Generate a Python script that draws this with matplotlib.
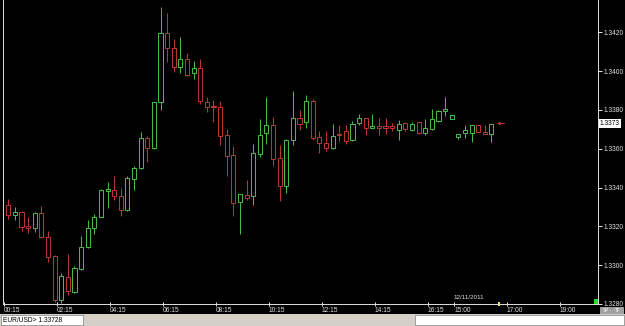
import matplotlib
matplotlib.use("Agg")
import matplotlib.pyplot as plt
from matplotlib.patches import Rectangle
import numpy as np

plt.rcParams['font.family'] = ['Liberation Sans', 'DejaVu Sans']

# EUR/USD 15 minute candles
opens = [1.33308, 1.33261, 1.33275, 1.33204, 1.33190, 1.33269, 1.33144, 1.33046, 1.32820, 1.32940,
         1.32860, 1.32978, 1.33095, 1.33192, 1.33249, 1.33383, 1.33388, 1.33355, 1.33283, 1.33444,
         1.33499, 1.33655, 1.33605, 1.33843, 1.34195, 1.34118, 1.34023, 1.34064, 1.33989, 1.34016,
         1.33843, 1.33821, 1.33817, 1.33670, 1.33568, 1.33324, 1.33362, 1.33355, 1.33574, 1.33681,
         1.33723, 1.33552, 1.33406, 1.33643, 1.33758, 1.33735, 1.33848, 1.33658, 1.33629, 1.33604,
         1.33676, 1.33693, 1.33645, 1.33730, 1.33758, 1.33706, 1.33715, 1.33715, 1.33715, 1.33698,
         1.33732, 1.33698, 1.33735, 1.33681, 1.33703, 1.33744, 1.33792, 1.33753, 1.33660, 1.33681,
         1.33681, 1.33720, 1.33686, 1.33677]
highs = [1.33342, 1.33300, 1.33281, 1.33247, 1.33272, 1.33307, 1.33175, 1.33050, 1.32959, 1.33055,
         1.32995, 1.33149, 1.33235, 1.33266, 1.33393, 1.33430, 1.33461, 1.33396, 1.33461, 1.33513,
         1.33684, 1.33667, 1.33843, 1.34329, 1.34301, 1.34164, 1.34174, 1.34095, 1.34052, 1.34064,
         1.33866, 1.33852, 1.33848, 1.33701, 1.33612, 1.33367, 1.33441, 1.33626, 1.33753, 1.33866,
         1.33763, 1.33621, 1.33650, 1.33895, 1.33801, 1.33878, 1.33856, 1.33689, 1.33693, 1.33727,
         1.33723, 1.33720, 1.33744, 1.33778, 1.33760, 1.33778, 1.33759, 1.33758, 1.33732, 1.33746,
         1.33735, 1.33735, 1.33738, 1.33753, 1.33804, 1.33797, 1.33866, 1.33775, 1.33676, 1.33723,
         1.33720, 1.33722, 1.33723, 1.33729]
lows = [1.33239, 1.33231, 1.33175, 1.33167, 1.33170, 1.33140, 1.33017, 1.32810, 1.32803, 1.32844,
        1.32855, 1.32975, 1.33090, 1.33163, 1.33249, 1.33293, 1.33338, 1.33252, 1.33280, 1.33386,
        1.33495, 1.33530, 1.33600, 1.33797, 1.34049, 1.33997, 1.33989, 1.33972, 1.33958, 1.33830,
        1.33787, 1.33740, 1.33619, 1.33461, 1.33252, 1.33163, 1.33334, 1.33312, 1.33557, 1.33626,
        1.33509, 1.33329, 1.33372, 1.33619, 1.33694, 1.33708, 1.33646, 1.33579, 1.33587, 1.33600,
        1.33638, 1.33624, 1.33640, 1.33720, 1.33670, 1.33705, 1.33669, 1.33677, 1.33689, 1.33646,
        1.33689, 1.33689, 1.33678, 1.33672, 1.33698, 1.33740, 1.33766, 1.33753, 1.33650, 1.33655,
        1.33632, 1.33684, 1.33677, 1.33632]
closes = [1.33257, 1.33276, 1.33197, 1.33192, 1.33269, 1.33146, 1.33041, 1.32820, 1.32943, 1.32866,
          1.32983, 1.33095, 1.33192, 1.33249, 1.33386, 1.33391, 1.33355, 1.33286, 1.33447, 1.33499,
          1.33655, 1.33602, 1.33843, 1.34195, 1.34118, 1.34023, 1.34061, 1.33980, 1.34018, 1.33847,
          1.33817, 1.33814, 1.33663, 1.33564, 1.33321, 1.33367, 1.33344, 1.33578, 1.33672, 1.33723,
          1.33547, 1.33406, 1.33646, 1.33758, 1.33729, 1.33848, 1.33654, 1.33629, 1.33605, 1.33663,
          1.33668, 1.33641, 1.33727, 1.33758, 1.33706, 1.33717, 1.33706, 1.33706, 1.33706, 1.33729,
          1.33704, 1.33729, 1.33681, 1.33708, 1.33754, 1.33795, 1.33804, 1.33775, 1.33676, 1.33694,
          1.33720, 1.33684, 1.33677, 1.33729]

time_labels = ["00:15", "02:15", "04:15", "06:15", "08:15", "10:15", "12:15", "14:15",
               "16:15", "15:00", "17:00", "19:00"]
time_label_bars = [0, 8, 16, 24, 32, 40, 48, 56, 64, 68, 76, 84]
price_ticks = [1.3280, 1.3300, 1.3320, 1.3340, 1.3360, 1.3380, 1.3400, 1.3420]
last_price = 1.3373
bid_text = "EUR/USD> 1.33728"
date_text = "12/11/2011"

W, H = 625, 326
fig = plt.figure(figsize=(W / 100, H / 100), dpi=100, facecolor="black")
ax = fig.add_axes([3 / W, 22 / H, 595 / W, 304 / H], facecolor="black")

green = "#48b848"
red = "#b83636"
px = 0.72
fs = 4.8

o = np.array(opens)
h = np.array(highs)
l = np.array(lows)
c = np.array(closes)
idx = np.arange(len(o))
up = c >= o
cols = np.where(up, green, red)

ax.vlines(idx, l, h, colors=cols, linewidth=px, zorder=2)
ax.bar(idx, np.maximum(np.abs(c - o), 0.000005), bottom=np.minimum(o, c), width=0.62,
       facecolor="black", edgecolor=cols, linewidth=px, zorder=3)

ax.set_xlim(-0.8, 89.1)
ax.set_ylim(1.32800, 1.34366)

ax.spines["top"].set_visible(False)
for s in ["left", "right", "bottom"]:
    ax.spines[s].set_color("#d8d8d8")
    ax.spines[s].set_linewidth(px)

ax.yaxis.tick_right()
ax.set_yticks(price_ticks)
ax.set_yticklabels(["%.4f" % p for p in price_ticks])
ax.tick_params(axis="y", colors="#e0e0e0", labelsize=fs, length=3, width=px, pad=1.2)

ax.set_xticks(np.array(time_label_bars) - 0.65)
ax.set_xticklabels(time_labels, ha="left")
ax.tick_params(axis="x", colors="#e0e0e0", labelsize=fs, length=3, width=px,
               direction="inout", pad=0.8)

# current price marker
ax.text(1.003, last_price, "%.4f" % last_price, transform=ax.get_yaxis_transform(),
        fontsize=fs, color="black", va="center", ha="left",
        bbox=dict(facecolor="white", edgecolor="none", pad=0.8), clip_on=False)
ax.annotate("", xy=(73.4, last_price), xytext=(75.4, last_price),
            arrowprops=dict(arrowstyle="-|>", color="#c03030", lw=0.7,
                            mutation_scale=4))

ax.text(69.6, 1.32822, date_text, fontsize=4.5, color="#e0e0e0", ha="center", va="bottom")

# small markers on the frame
ax.add_patch(Rectangle((0.9925, 0.0), 0.0075, 0.015, transform=ax.transAxes,
                       facecolor="#22dd22", edgecolor="none", zorder=5))
ax.add_patch(Rectangle((0.832, -0.006), 0.004, 0.012, transform=ax.transAxes,
                       facecolor="#e8e070", edgecolor="none", clip_on=False, zorder=5))

# status bar
fig.patches.append(Rectangle((0, 0), 1, 12 / H, transform=fig.transFigure,
                             facecolor="#d4d0c8", edgecolor="none"))
fig.patches.append(Rectangle((1 / W, 1 / H), 82 / W, 10 / H, transform=fig.transFigure,
                             facecolor="white", edgecolor="#808080", linewidth=0.5))
fig.patches.append(Rectangle((415 / W, 1 / H), 209 / W, 10 / H, transform=fig.transFigure,
                             facecolor="white", edgecolor="#808080", linewidth=0.5))
fig.text(3 / W, 6 / H, bid_text, fontsize=fs, color="black", va="center", ha="left")

# SP / TF buttons
for x0, t in [(600, "SP"), (612, "TF")]:
    fig.patches.append(Rectangle((x0 / W, 12.5 / H), 11 / W, 6.5 / H, transform=fig.transFigure,
                                 facecolor="#a0a0a0", edgecolor="#e0e0e0", linewidth=0.4))
    fig.text((x0 + 5.5) / W, 15.7 / H, t, fontsize=3.4, color="white", ha="center", va="center")

fig.savefig("out.png", dpi=100, facecolor="black")
